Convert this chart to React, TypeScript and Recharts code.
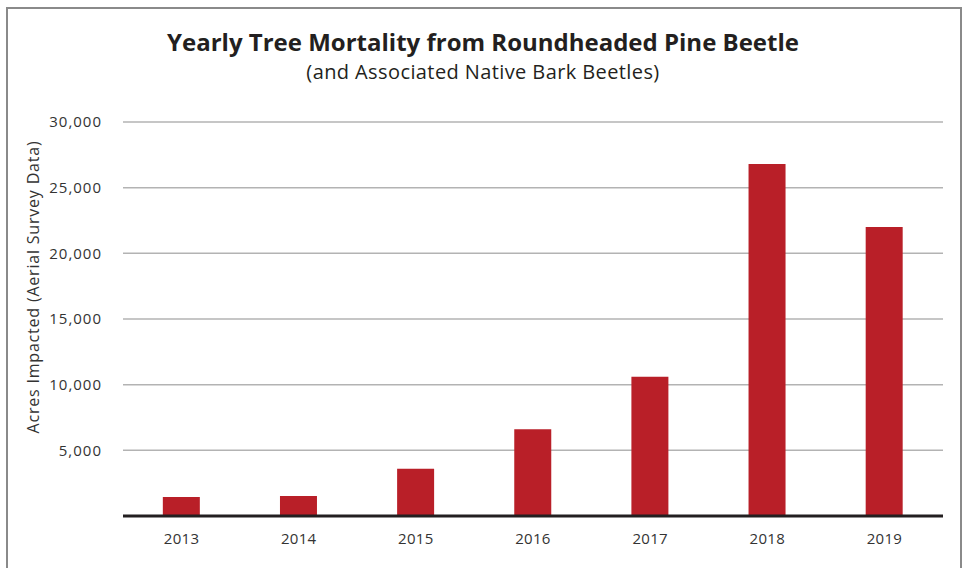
import React from 'react';
import { BarChart, Bar, XAxis, YAxis, CartesianGrid } from 'recharts';

// Yearly acres impacted
const years = ['2013', '2014', '2015', '2016', '2017', '2018', '2019'];
const acres = [1450, 1520, 3600, 6600, 10600, 26800, 22000];
const yTicks = [0, 5000, 10000, 15000, 20000, 25000, 30000];

const data = years.map((year, i) => ({ year, acres: acres[i] }));

const font = '"Open Sans", Lato, sans-serif';

export default function App() {
  return (
    <div
      style={{
        position: 'absolute',
        left: 0,
        top: 0,
        width: 966,
        height: 568,
        background: '#fff',
        overflow: 'hidden',
        fontFamily: font,
      }}
    >
      {/* frame */}
      <div
        style={{
          position: 'absolute',
          left: 6,
          top: 7,
          width: 956,
          height: 600,
          border: '2px solid #8a8a8a',
          boxSizing: 'border-box',
        }}
      />
      <div
        style={{
          position: 'absolute',
          top: 25,
          width: 966,
          textAlign: 'center',
          fontSize: 24,
          fontWeight: 700,
          color: '#231f20',
        }}
      >
        Yearly Tree Mortality from Roundheaded Pine Beetle
      </div>
      <div
        style={{
          position: 'absolute',
          top: 58,
          width: 966,
          textAlign: 'center',
          fontSize: 20,
          letterSpacing: 0.4,
          fontWeight: 400,
          color: '#231f20',
        }}
      >
        (and Associated Native Bark Beetles)
      </div>
      <div
        style={{
          position: 'absolute',
          left: 33,
          top: 287,
          transform: 'translate(-50%, -50%) rotate(-90deg)',
          whiteSpace: 'nowrap',
          fontSize: 16,
          letterSpacing: 0.8,
          color: '#333',
        }}
      >
        Acres Impacted (Aerial Survey Data)
      </div>
      <div style={{ position: 'absolute', left: 0, top: 0 }}>
        <BarChart
          width={966}
          height={568}
          data={data}
          margin={{ top: 122, right: 23, left: 43, bottom: 22 }}
          barCategoryGap="34%"
        >
          <CartesianGrid vertical={false} stroke="#b3b3b3" strokeWidth={1.5} />
          <XAxis
            dataKey="year"
            height={30}
            tickLine={false}
            tickSize={0}
            tickMargin={17}
            axisLine={{ stroke: '#231f20', strokeWidth: 3 }}
            tick={{ fill: '#333', fontSize: 15, letterSpacing: 0.3, fontFamily: font }}
          />
          <YAxis
            width={80}
            domain={[0, 30000]}
            ticks={yTicks}
            interval={0}
            axisLine={false}
            tickLine={false}
            tickSize={0}
            tickMargin={21}
            tickFormatter={(v: number) => (v === 0 ? '' : v.toLocaleString('en-US'))}
            tick={{ fill: '#333', fontSize: 15, letterSpacing: 1, fontFamily: font }}
          />
          <Bar dataKey="acres" fill="#b91f28" isAnimationActive={false} />
        </BarChart>
      </div>
    </div>
  );
}
